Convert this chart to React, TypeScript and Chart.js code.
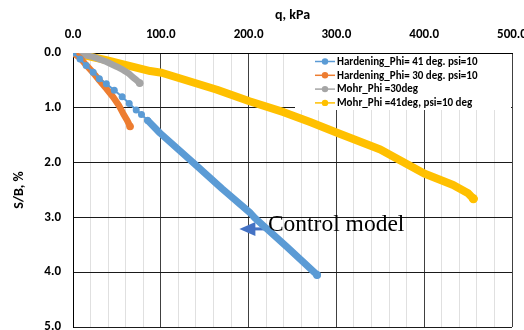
import React, { useEffect, useRef } from "react";
import { Chart, registerables } from "chart.js";

Chart.register(...registerables);

// Footing load test: settlement ratio vs. applied pressure
const hard41Q = [0, 8, 15, 23, 30, 38, 47, 56, 64, 72, 78, 85, 99, 141, 170, 202, 207, 243, 278];
const hard41S = [0, 0.11, 0.23, 0.35, 0.47, 0.56, 0.68, 0.8, 0.92, 1.04, 1.12, 1.23, 1.46, 2.06, 2.48, 2.92, 3.01, 3.53, 4.05];

const hard30Q = [0, 8, 15, 23, 30, 38, 46, 52, 57, 61, 63, 65];
const hard30S = [0, 0.09, 0.22, 0.36, 0.5, 0.65, 0.81, 0.95, 1.1, 1.21, 1.27, 1.34];

const mohr30Q = [0, 10, 23, 38, 50, 57, 64, 68, 72, 76];
const mohr30S = [0, 0.03, 0.07, 0.16, 0.25, 0.31, 0.38, 0.44, 0.49, 0.55];

const mohr41Q = [0, 38, 88, 101, 164, 201, 240, 270, 300, 350, 376, 400, 433, 450, 456];
const mohr41S = [0, 0.13, 0.33, 0.36, 0.67, 0.88, 1.08, 1.26, 1.45, 1.76, 1.99, 2.2, 2.41, 2.56, 2.66];

const seriesLabels = [
  "Hardening_Phi= 41 deg. psi=10",
  "Hardening_Phi= 30 deg. psi=10",
  "Mohr_Phi =30deg",
  "Mohr_Phi =41deg, psi=10 deg",
];
const seriesColors = ["#5B9BD5", "#ED7D31", "#A5A5A5", "#FFC000"];

const xTitle = "q, kPa";
const yTitle = "S/B, %";
const noteText = "Control model";
// callout anchor (data units): arrow tip and text start
const noteTip = { q: 189.5, s: 3.21 };
const noteTextAt = { q: 222, s: 3.245 };

const uiFont = "Carlito, Lato, 'Liberation Sans', sans-serif";

const zip = (xs: number[], ys: number[]) => xs.map((x, i) => ({ x, y: ys[i] }));

const legendBox = {
  id: "legendBox",
  afterDraw(chart: any) {
    const { ctx, chartArea } = chart;
    const left = chartArea.right - 217;
    const top = chartArea.top + 1;
    ctx.save();
    ctx.fillStyle = "#ffffff";
    ctx.fillRect(left, top, 216, 56);
    ctx.font = `bold 11px ${uiFont}`;
    ctx.textBaseline = "middle";
    chart.data.datasets.forEach((ds: any, i: number) => {
      const y = top + 7.5 + i * 13.8;
      ctx.strokeStyle = ds.borderColor;
      ctx.lineWidth = 1.5;
      ctx.beginPath();
      ctx.moveTo(left + 20, y);
      ctx.lineTo(left + 40, y);
      ctx.stroke();
      ctx.fillStyle = ds.borderColor;
      ctx.beginPath();
      ctx.arc(left + 30, y, 3.2, 0, Math.PI * 2);
      ctx.fill();
      ctx.fillStyle = "#000000";
      ctx.fillText(ds.label, left + 42, y + 0.5);
    });
    ctx.restore();
  },
};

const callout = {
  id: "callout",
  beforeDatasetsDraw(chart: any) {
    const { ctx, scales } = chart;
    const tx = scales.x.getPixelForValue(noteTip.q);
    const ty = scales.y.getPixelForValue(noteTip.s);
    ctx.save();
    ctx.fillStyle = "#4472C4";
    ctx.beginPath();
    ctx.moveTo(tx, ty);
    ctx.lineTo(tx + 16, ty - 7);
    ctx.lineTo(tx + 16, ty + 7);
    ctx.closePath();
    ctx.fill();
    ctx.fillRect(tx + 15, ty - 1.5, 12, 3);
    ctx.restore();
  },
  afterDatasetsDraw(chart: any) {
    const { ctx, scales } = chart;
    const x = scales.x.getPixelForValue(noteTextAt.q);
    const y = scales.y.getPixelForValue(noteTextAt.s);
    ctx.save();
    ctx.fillStyle = "#000000";
    ctx.font = "23.5px 'Liberation Serif', 'Times New Roman', serif";
    ctx.textBaseline = "alphabetic";
    ctx.fillText(noteText, x, y);
    ctx.restore();
  },
};

export default function App() {
  const ref = useRef<HTMLCanvasElement>(null);

  useEffect(() => {
    if (!ref.current) return;
    const endDot = (n: number, r: number) => (c: any) => (c.dataIndex === n - 1 ? r : 0);
    const chart = new Chart(ref.current, {
      type: "scatter",
      data: {
        datasets: [
          {
            label: seriesLabels[0],
            data: zip(hard41Q, hard41S),
            showLine: true,
            borderColor: seriesColors[0],
            backgroundColor: seriesColors[0],
            borderWidth: 2,
            borderCapStyle: "round",
            borderJoinStyle: "round",
            pointBorderWidth: 0,
            pointRadius: (c: any) => (c.raw && c.raw.x <= 86 ? 3.5 : c.dataIndex === hard41Q.length - 1 ? 4 : 0),
            segment: {
              borderWidth: (c: any) => (c.p0.parsed.x >= 85 ? 7 : 2),
            },
          },
          {
            label: seriesLabels[1],
            data: zip(hard30Q, hard30S),
            showLine: true,
            borderColor: seriesColors[1],
            backgroundColor: seriesColors[1],
            borderWidth: 6.5,
            borderCapStyle: "round",
            borderJoinStyle: "round",
            pointBorderWidth: 0,
            pointRadius: endDot(hard30Q.length, 3.8),
          },
          {
            label: seriesLabels[2],
            data: zip(mohr30Q, mohr30S),
            showLine: true,
            borderColor: seriesColors[2],
            backgroundColor: seriesColors[2],
            borderWidth: 6.5,
            borderCapStyle: "round",
            borderJoinStyle: "round",
            pointBorderWidth: 0,
            pointRadius: endDot(mohr30Q.length, 3.8),
          },
          {
            label: seriesLabels[3],
            data: zip(mohr41Q, mohr41S),
            showLine: true,
            borderColor: seriesColors[3],
            backgroundColor: seriesColors[3],
            borderWidth: 8,
            borderCapStyle: "round",
            borderJoinStyle: "round",
            pointBorderWidth: 0,
            pointRadius: endDot(mohr41Q.length, 4.5),
          },
        ],
      },
      options: {
        responsive: false,
        animation: false,
        layout: { autoPadding: false, padding: { left: 0, top: 0, right: 12, bottom: 3 } },
        plugins: {
          legend: { display: false },
          tooltip: { enabled: false },
        },
        scales: {
          x: {
            type: "linear",
            position: "top",
            min: 0,
            max: 500,
            afterFit: (s: any) => {
              s.height = 53;
              s.paddingLeft = 0;
              s.paddingRight = 0;
            },
            ticks: {
              stepSize: 20,
              autoSkip: false,
              maxRotation: 0,
              padding: 10,
              color: "#000000",
              font: { family: uiFont, size: 13, weight: "bold" },
              callback: (v: any) => (Number(v) % 100 === 0 ? Number(v).toFixed(1) : ""),
            },
            grid: {
              drawTicks: false,
              color: (c: any) => (c.tick && c.tick.value % 100 === 0 ? "#404040" : "#e0e0e0"),
              lineWidth: 1,
            },
            border: { color: "#000000", width: 1 },
            title: {
              display: true,
              text: xTitle,
              color: "#000000",
              font: { family: uiFont, size: 14, weight: "bold" },
              padding: { top: 7, bottom: 0 },
            },
          },
          y: {
            type: "linear",
            reverse: true,
            min: 0,
            max: 5,
            afterFit: (s: any) => {
              s.width = 73;
              s.paddingTop = 0;
              s.paddingBottom = 0;
            },
            ticks: {
              stepSize: 1,
              padding: 12,
              color: "#000000",
              font: { family: uiFont, size: 13, weight: "bold" },
              callback: (v: any) => Number(v).toFixed(1),
            },
            grid: {
              drawTicks: false,
              color: "#1a1a1a",
              lineWidth: 1,
            },
            border: { color: "#000000", width: 1 },
            title: {
              display: true,
              text: yTitle,
              color: "#000000",
              font: { family: uiFont, size: 14, weight: "bold" },
              padding: { top: 11, bottom: 0 },
            },
          },
        },
      },
      plugins: [callout, legendBox],
    } as any);
    return () => chart.destroy();
  }, []);

  return (
    <div style={{ position: "fixed", left: 0, top: 0, width: 524, height: 330, background: "#ffffff" }}>
      <canvas ref={ref} width={524} height={330} style={{ display: "block" }} />
    </div>
  );
}
